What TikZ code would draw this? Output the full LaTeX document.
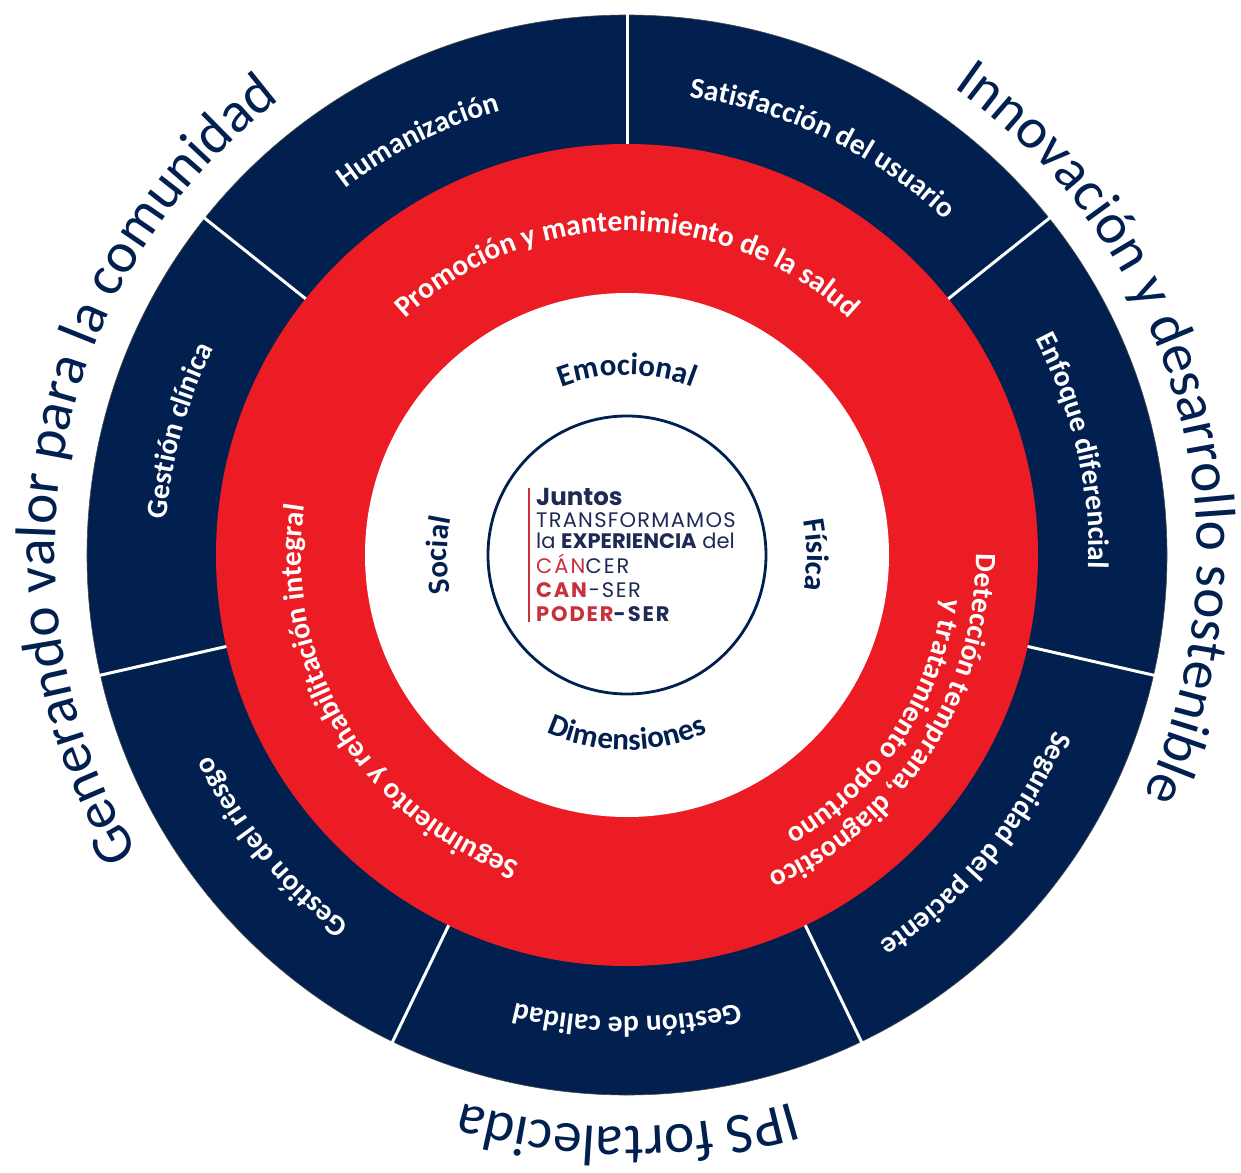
\documentclass[tikz,border=0pt]{standalone}
\usepackage{fontspec}
\setmainfont{Carlito}
\newfontfamily\logofont{Poppins}
\usetikzlibrary{decorations.text}

\definecolor{navy}{HTML}{012050}
\definecolor{ringred}{HTML}{EC1C24}
\definecolor{logored}{HTML}{C8303C}
\definecolor{logonavy}{HTML}{1E2A55}

\newcommand{\outerfont}{\fontsize{57.5}{60}\selectfont\color{navy}}
\newcommand{\segfont}{\fontsize{29.5}{31}\selectfont\bfseries\color{white}}
\newcommand{\dimfont}{\fontsize{31}{32}\selectfont\bfseries\color{navy}}

% text on a clockwise arc: radius, mid angle, span, format, text
\newcommand{\arclabel}[5]{%
  \path[decorate, decoration={text along path, text align=center, text={|#4|#5}}]
    ({#2+#3/2}:#1pt) arc[start angle={#2+#3/2}, end angle={#2-#3/2}, radius=#1pt];}

\tikzset{
  logoline/.style={anchor=base west, inner sep=0pt, text=logonavy},
}

\begin{document}
\begin{tikzpicture}
    \useasboundingbox (-627pt,-617pt) rectangle (614pt,555pt);

    % rings
    \fill[navy] (0,0) circle[radius=540pt];
    \draw[black!70, line width=0.6pt] (0,0) circle[radius=540pt];
    \fill[ringred] (0,0) circle[radius=411pt];
    \fill[white] (0,0) circle[radius=262pt];
    \draw[navy, line width=2.8pt] (0,0) circle[radius=139pt];
    \foreach \a in {0,...,6}
        \draw[white, line width=3pt] ({90-\a*360/7}:411pt) -- ({90-\a*360/7}:541pt);

    % outer words
    \arclabel{570}{15.1}{120}{\outerfont}{Innovación y desarrollo sostenible}
    \arclabel{572}{169.3}{120}{\outerfont}{Generando valor para la comunidad}
    \arclabel{572}{-90}{80}{\outerfont}{IPS fortalecida}

    % dark segments
    \arclabel{462}{64.4}{60}{\segfont}{Satisfacción del usuario}
    \arclabel{462}{13.1}{60}{\segfont}{Enfoque diferencial}
    \arclabel{462}{-39.6}{60}{\segfont}{Seguridad del paciente}
    \arclabel{462}{-90}{60}{\segfont}{Gestión de calidad}
    \arclabel{462}{219.4}{60}{\segfont}{Gestión del riesgo}
    \arclabel{462}{164.5}{60}{\segfont}{Gestión clínica}
    \arclabel{462}{116.7}{60}{\segfont}{Humanización}

    % red ring
    \arclabel{324}{90}{150}{\segfont}{Promoción y mantenimiento de la salud}
    \arclabel{326}{211}{150}{\segfont}{Seguimiento y rehabilitación integral}
    \arclabel{349}{-33}{120}{\segfont}{Detección temprana, diagnostico}
    \arclabel{319}{-34}{120}{\segfont}{y tratamiento oportuno}

    % dimensions
    \arclabel{180}{90}{100}{\dimfont}{Emocional}
    \arclabel{180}{0}{100}{\dimfont}{Física}
    \arclabel{180}{180}{100}{\dimfont}{Social}
    \path[decorate, decoration={text along path, text align=center, text={|\dimfont|Dimensiones}}]
        (220:195pt) arc[start angle=220, end angle=320, radius=195pt];

    % centre
    \draw[logored, line width=1.6pt] (-98pt,67pt) -- (-98pt,-67pt);
    \node[logoline, font=\logofont\fontsize{24.5}{25}\selectfont\bfseries] (juntos) at (-91pt,50pt) {Juntos};
    \node[logoline, font=\logofont\fontsize{21}{22}\selectfont\addfontfeature{LetterSpace=6}] (transf) at (-91pt,28pt) {TRANSFORMAMOS};
    \node[logoline, font=\logofont\fontsize{21}{22}\selectfont] (experiencia) at (-91pt,7pt) {la \textbf{EXPERIENCIA} del};
    \node[logoline, font=\logofont\fontsize{21}{22}\selectfont\addfontfeature{LetterSpace=10}] (cancer) at (-91pt,-18pt) {\textcolor{logored}{CÁN}CER};
    \node[logoline, font=\logofont\fontsize{21}{22}\selectfont\addfontfeature{LetterSpace=8}] (canser) at (-91pt,-42pt) {\textcolor{logored}{\textbf{CAN}}-SER};
    \node[logoline, font=\logofont\fontsize{21}{22}\selectfont\bfseries\addfontfeature{LetterSpace=9}] (poderser) at (-91pt,-66pt) {\textcolor{logored}{PODER}-SER};
\end{tikzpicture}
\end{document}
